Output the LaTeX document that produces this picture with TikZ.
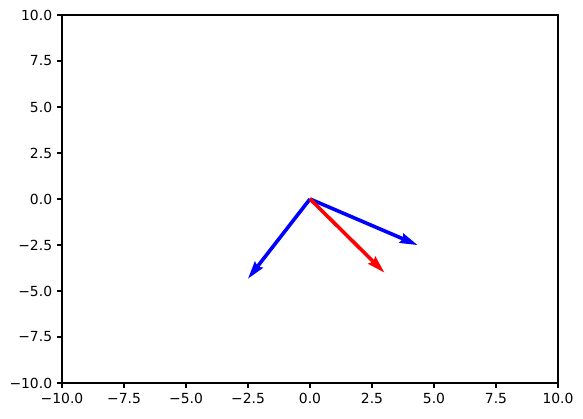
\documentclass[tikz,border=0pt]{standalone}
\usepackage{fontspec}
\setmainfont{DejaVu Sans}
\usetikzlibrary{calc}
\begin{document}
\begin{tikzpicture}[x=1pt,y=1pt,
  ticklab/.style={font=\fontsize{13.9pt}{16pt}\selectfont, inner sep=0pt},
  spine/.style={line width=1.1pt, black},
  tickmark/.style={line width=1.1pt, black},
  qarrow/.style={fill=#1, draw=none}]
\useasboundingbox (0,0) rectangle (583,418);
% data frame
\begin{scope}[shift={(310,219)}, x=24.8pt, y=18.4pt]
  \coordinate (O) at (0,0);
  \coordinate (B1) at (4.33,-2.5);
  \coordinate (B2) at (-2.5,-4.33);
  \coordinate (R) at (3,-4);
\end{scope}
% arrows (matplotlib quiver shape)
\foreach \T/\c in {B1/blue, B2/blue, R/red}{
  \path let \p1=($(\T)-(O)$), \n1={veclen(\x1,\y1)}, \n2={atan2(\y1,\x1)} in
    [qarrow=\c, shift={(O)}, rotate=\n2]
    (0,-1.8) -- ({\n1-16.2},-1.8) -- ({\n1-18},-5.4) -- (\n1,0)
    -- ({\n1-18},5.4) -- ({\n1-16.2},1.8) -- (0,1.8) -- cycle;
}
% axes box
\draw[spine] (62,35) rectangle (558,403);
% x ticks
\foreach \l [count=\i from 0] in {−10.0,−7.5,−5.0,−2.5,0.0,2.5,5.0,7.5,10.0}{
  \pgfmathsetmacro{\px}{62+62*\i}
  \draw[tickmark] (\px,35) -- (\px,30.1);
  \node[ticklab, anchor=north] (xl\i) at (\px,25.3) {\l};
}
% y ticks
\foreach \l [count=\i from 0] in {−10.0,−7.5,−5.0,−2.5,0.0,2.5,5.0,7.5,10.0}{
  \pgfmathsetmacro{\py}{35+46*\i}
  \draw[tickmark] (62,\py) -- (57.1,\py);
  \node[ticklab, anchor=east] (yl\i) at (52.3,\py) {\l};
}
\end{tikzpicture}
\end{document}
